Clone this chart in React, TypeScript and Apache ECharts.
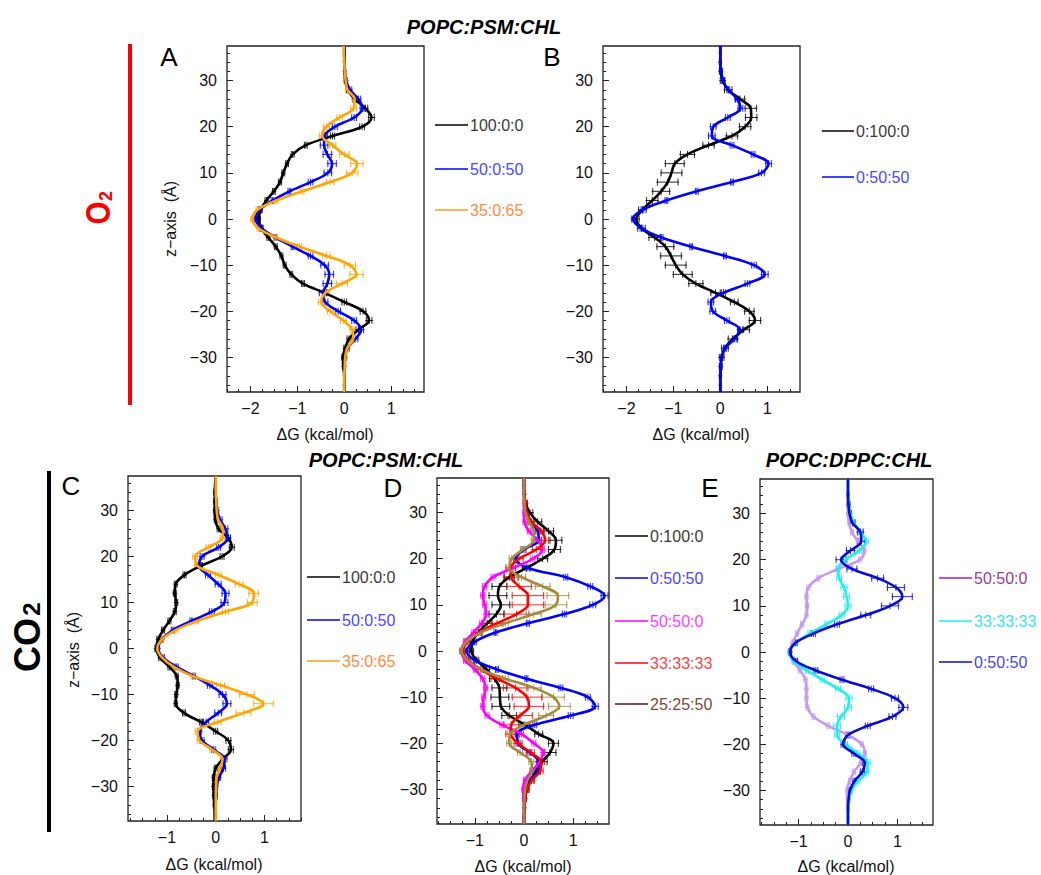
import React, { useEffect, useRef } from "react";
import * as echarts from "echarts";

// z positions (Å) at which profiles were read
const zGrid = [37.5, 36, 34, 32, 30, 28, 26, 24, 22, 20, 18, 16, 14, 12, 10, 8, 6, 4, 2, 0, -2, -4, -6, -8, -10, -12, -14, -16, -18, -20, -22, -24, -26, -28, -30, -32, -34, -36, -37.5];

const xTicksAB = [-2, -1, 0, 1];
const xTicksCDE = [-1, 0, 1];
const yTicks = [-30, -20, -10, 0, 10, 20, 30];

// ---- Panel A : O2, POPC:PSM:CHL ----
const aNames = ["100:0:0", "50:0:50", "35:0:65"];
const a100 = [0, 0, 0, 0.01, 0.02, 0.08, 0.22, 0.45, 0.58, 0.38, -0.25, -0.82, -1.1, -1.22, -1.3, -1.37, -1.5, -1.66, -1.78, -1.82, -1.77, -1.62, -1.46, -1.34, -1.27, -1.13, -0.88, -0.42, 0, 0.4, 0.53, 0.3, 0.1, 0.02, -0.03, -0.02, 0, 0, 0];
const a100Err = [0.01, 0.01, 0.01, 0.02, 0.02, 0.03, 0.04, 0.05, 0.06, 0.05, 0.04, 0.03, 0.03, 0.03, 0.03, 0.03, 0.03, 0.03, 0.03, 0.03, 0.03, 0.03, 0.03, 0.03, 0.03, 0.03, 0.03, 0.04, 0.05, 0.06, 0.06, 0.05, 0.04, 0.03, 0.02, 0.02, 0.01, 0.01, 0.01];
const a50 = [0, 0, 0, 0.01, 0.04, 0.12, 0.3, 0.39, 0.21, -0.2, -0.42, -0.43, -0.36, -0.26, -0.35, -0.72, -1.17, -1.53, -1.8, -1.89, -1.76, -1.47, -1.1, -0.72, -0.42, -0.32, -0.36, -0.45, -0.41, -0.13, 0.21, 0.36, 0.24, 0.07, 0.02, 0.01, 0, 0, 0];
const a50Err = [0.01, 0.01, 0.01, 0.02, 0.03, 0.04, 0.05, 0.05, 0.05, 0.05, 0.06, 0.08, 0.09, 0.09, 0.08, 0.05, 0.03, 0.03, 0.03, 0.03, 0.03, 0.03, 0.03, 0.05, 0.08, 0.09, 0.09, 0.08, 0.06, 0.05, 0.05, 0.05, 0.05, 0.04, 0.03, 0.02, 0.01, 0.01, 0.01];
const a35 = [-0.01, -0.01, 0, 0.01, 0.03, 0.07, 0.22, 0.2, -0.1, -0.38, -0.47, -0.25, 0, 0.27, 0.17, -0.3, -0.9, -1.45, -1.85, -1.96, -1.83, -1.45, -0.95, -0.38, 0.12, 0.26, -0.05, -0.4, -0.49, -0.3, -0.02, 0.17, 0.19, 0.06, 0.02, 0.01, 0, 0, 0];
const a35Err = [0.01, 0.01, 0.01, 0.02, 0.03, 0.04, 0.05, 0.06, 0.06, 0.06, 0.06, 0.07, 0.1, 0.13, 0.12, 0.08, 0.04, 0.03, 0.03, 0.03, 0.03, 0.03, 0.04, 0.08, 0.12, 0.14, 0.12, 0.07, 0.06, 0.06, 0.06, 0.05, 0.05, 0.04, 0.03, 0.02, 0.01, 0.01, 0.01];

// ---- Panel B : O2, POPC:PSM:CHL ----
const bNames = ["0:100:0", "0:50:50"];
const b100 = [0, 0, 0, 0.01, 0.05, 0.17, 0.42, 0.65, 0.66, 0.53, 0.25, -0.25, -0.7, -0.97, -1.04, -1.12, -1.26, -1.45, -1.66, -1.79, -1.68, -1.4, -1.17, -1.05, -0.95, -0.8, -0.52, -0.1, 0.3, 0.62, 0.74, 0.5, 0.27, 0.1, 0.03, 0.01, 0, 0, 0];
const b100Err = [0.01, 0.01, 0.02, 0.03, 0.05, 0.08, 0.1, 0.12, 0.12, 0.12, 0.12, 0.12, 0.15, 0.2, 0.22, 0.22, 0.18, 0.12, 0.08, 0.06, 0.08, 0.12, 0.18, 0.22, 0.22, 0.2, 0.15, 0.1, 0.08, 0.1, 0.12, 0.12, 0.1, 0.07, 0.05, 0.03, 0.02, 0.01, 0.01];
const b50 = [0, 0, 0, 0.02, 0.06, 0.17, 0.36, 0.43, 0.16, -0.15, -0.18, 0.25, 0.7, 1.03, 0.88, 0.25, -0.5, -1.15, -1.66, -1.86, -1.68, -1.25, -0.62, 0.1, 0.72, 0.95, 0.58, 0.07, -0.2, -0.16, 0.14, 0.42, 0.3, 0.1, 0.03, 0.01, 0, 0, 0];
const b50Err = [0.01, 0.01, 0.01, 0.02, 0.03, 0.03, 0.04, 0.05, 0.05, 0.06, 0.07, 0.04, 0.04, 0.06, 0.06, 0.03, 0.03, 0.03, 0.03, 0.03, 0.03, 0.03, 0.03, 0.03, 0.05, 0.07, 0.05, 0.04, 0.06, 0.06, 0.05, 0.05, 0.04, 0.03, 0.02, 0.02, 0.01, 0.01, 0.01];

// ---- Panel C : CO2, POPC:PSM:CHL ----
const cNames = ["100:0:0", "50:0:50", "35:0:65"];
const c100 = [0, -0.01, -0.02, -0.02, -0.02, -0.01, 0.06, 0.26, 0.33, 0.13, -0.3, -0.64, -0.82, -0.84, -0.81, -0.84, -0.95, -1.08, -1.18, -1.22, -1.14, -0.95, -0.8, -0.78, -0.81, -0.82, -0.65, -0.3, 0, 0.26, 0.31, 0.15, 0, -0.04, -0.05, -0.04, -0.03, -0.02, -0.02];
const c100Err = [0.01, 0.01, 0.02, 0.02, 0.02, 0.02, 0.03, 0.04, 0.05, 0.04, 0.03, 0.03, 0.03, 0.03, 0.03, 0.03, 0.03, 0.03, 0.03, 0.03, 0.03, 0.03, 0.03, 0.03, 0.03, 0.03, 0.03, 0.03, 0.04, 0.05, 0.05, 0.04, 0.03, 0.03, 0.02, 0.02, 0.02, 0.01, 0.01];
const c50 = [0, 0, 0, 0.01, 0.03, 0.09, 0.2, 0.25, 0.06, -0.28, -0.34, -0.16, 0.05, 0.2, 0.18, -0.08, -0.5, -0.88, -1.1, -1.18, -1.08, -0.8, -0.45, -0.12, 0.14, 0.23, 0.05, -0.2, -0.33, -0.28, -0.04, 0.18, 0.16, 0.07, 0.02, 0.01, 0, 0, 0];
const c50Err = [0.01, 0.01, 0.01, 0.02, 0.03, 0.04, 0.05, 0.05, 0.04, 0.04, 0.04, 0.05, 0.06, 0.07, 0.07, 0.05, 0.03, 0.03, 0.03, 0.03, 0.03, 0.03, 0.03, 0.05, 0.07, 0.08, 0.07, 0.05, 0.04, 0.04, 0.04, 0.05, 0.04, 0.03, 0.02, 0.02, 0.01, 0.01, 0.01];
const c35 = [0, 0, 0, 0.01, 0.02, 0.05, 0.15, 0.14, -0.15, -0.42, -0.38, 0.05, 0.48, 0.78, 0.75, 0.2, -0.38, -0.82, -1.1, -1.2, -1.1, -0.86, -0.47, 0.1, 0.64, 0.98, 0.57, 0.04, -0.37, -0.33, -0.07, 0.14, 0.09, 0.02, 0.01, 0, 0, 0, 0];
const c35Err = [0.01, 0.01, 0.01, 0.02, 0.03, 0.04, 0.04, 0.05, 0.05, 0.05, 0.05, 0.06, 0.08, 0.1, 0.1, 0.06, 0.03, 0.03, 0.03, 0.03, 0.03, 0.03, 0.04, 0.08, 0.15, 0.2, 0.15, 0.07, 0.05, 0.05, 0.05, 0.04, 0.04, 0.03, 0.02, 0.02, 0.01, 0.01, 0.01];

// ---- Panel D : CO2, POPC:PSM:CHL ----
const dNames = ["0:100:0", "0:50:50", "50:50:0", "33:33:33", "25:25:50"];
const d0100 = [0, 0, 0.01, 0.03, 0.12, 0.28, 0.5, 0.65, 0.62, 0.38, 0.05, -0.3, -0.5, -0.53, -0.47, -0.56, -0.75, -0.93, -1.05, -1.07, -0.96, -0.76, -0.6, -0.5, -0.49, -0.47, -0.3, 0.02, 0.3, 0.6, 0.53, 0.37, 0.25, 0.14, 0.06, 0.02, 0.01, 0, 0];
const d0100Err = [0.01, 0.01, 0.02, 0.04, 0.06, 0.08, 0.1, 0.12, 0.12, 0.1, 0.08, 0.1, 0.15, 0.18, 0.18, 0.15, 0.1, 0.06, 0.04, 0.04, 0.04, 0.06, 0.1, 0.15, 0.18, 0.18, 0.15, 0.1, 0.08, 0.1, 0.12, 0.1, 0.08, 0.06, 0.04, 0.03, 0.02, 0.01, 0.01];
const d050 = [0, 0, 0, 0.01, 0.04, 0.12, 0.28, 0.3, 0, -0.17, 0.08, 0.85, 1.35, 1.64, 1.4, 0.82, 0.08, -0.58, -1.0, -1.17, -1.0, -0.55, 0.05, 0.75, 1.3, 1.45, 0.95, 0.22, -0.14, -0.12, 0.12, 0.3, 0.28, 0.12, 0.04, 0.01, 0, 0, 0];
const d050Err = [0.01, 0.01, 0.01, 0.02, 0.03, 0.04, 0.05, 0.05, 0.04, 0.04, 0.04, 0.04, 0.05, 0.07, 0.06, 0.04, 0.03, 0.03, 0.03, 0.03, 0.03, 0.03, 0.03, 0.04, 0.05, 0.06, 0.05, 0.04, 0.04, 0.04, 0.04, 0.05, 0.04, 0.03, 0.02, 0.02, 0.01, 0.01, 0.01];
const d5050 = [0, 0, 0, 0, 0, 0.01, 0.1, 0.28, 0.38, 0.18, -0.22, -0.63, -0.8, -0.84, -0.8, -0.77, -0.86, -1.03, -1.2, -1.27, -1.2, -1.0, -0.84, -0.78, -0.82, -0.84, -0.75, -0.45, -0.05, 0.2, 0.39, 0.32, 0.16, 0.02, -0.02, -0.01, 0, 0, 0];
const d5050Err = [0.01, 0.01, 0.01, 0.02, 0.02, 0.03, 0.03, 0.04, 0.04, 0.04, 0.04, 0.04, 0.04, 0.04, 0.04, 0.04, 0.04, 0.03, 0.03, 0.03, 0.03, 0.03, 0.04, 0.04, 0.04, 0.04, 0.04, 0.04, 0.04, 0.04, 0.04, 0.04, 0.03, 0.03, 0.02, 0.02, 0.01, 0.01, 0.01];
const d33 = [0, 0, 0.01, 0.03, 0.06, 0.15, 0.35, 0.43, 0.25, -0.1, -0.27, -0.26, -0.1, 0.08, 0.08, -0.15, -0.55, -0.92, -1.15, -1.24, -1.13, -0.88, -0.55, -0.17, 0.06, 0.1, -0.08, -0.26, -0.27, -0.12, 0.13, 0.35, 0.33, 0.16, 0.06, 0.02, 0.01, 0, 0];
const d33Err = [0.01, 0.01, 0.02, 0.03, 0.04, 0.05, 0.06, 0.07, 0.08, 0.08, 0.1, 0.15, 0.25, 0.32, 0.32, 0.25, 0.12, 0.06, 0.04, 0.04, 0.04, 0.06, 0.12, 0.25, 0.3, 0.3, 0.25, 0.15, 0.1, 0.08, 0.08, 0.07, 0.06, 0.05, 0.04, 0.03, 0.02, 0.01, 0.01];
const d25 = [0, 0, 0, 0.01, 0.03, 0.1, 0.2, 0.2, -0.02, -0.25, -0.3, -0.05, 0.38, 0.69, 0.65, 0.2, -0.38, -0.88, -1.17, -1.27, -1.15, -0.88, -0.38, 0.2, 0.6, 0.72, 0.45, 0, -0.28, -0.3, -0.08, 0.15, 0.16, 0.07, 0.02, 0.01, 0, 0, 0];
const d25Err = [0.01, 0.01, 0.01, 0.02, 0.03, 0.04, 0.05, 0.05, 0.05, 0.05, 0.06, 0.08, 0.15, 0.22, 0.22, 0.15, 0.06, 0.04, 0.04, 0.04, 0.04, 0.04, 0.06, 0.15, 0.22, 0.22, 0.15, 0.08, 0.06, 0.05, 0.05, 0.05, 0.04, 0.03, 0.03, 0.02, 0.01, 0.01, 0.01];

// ---- Panel E : CO2, POPC:DPPC:CHL ----
const eNames = ["50:50:0", "33:33:33", "0:50:50"];
const e5050 = [0, 0, 0, 0, 0, 0.02, 0.08, 0.2, 0.33, 0.24, -0.2, -0.6, -0.8, -0.84, -0.83, -0.84, -0.93, -1.03, -1.12, -1.18, -1.1, -0.97, -0.86, -0.84, -0.84, -0.82, -0.7, -0.4, 0, 0.28, 0.34, 0.26, 0.12, 0.03, -0.02, -0.02, -0.01, 0, 0];
const e5050Err = [0.01, 0.01, 0.01, 0.01, 0.02, 0.02, 0.03, 0.03, 0.03, 0.03, 0.03, 0.03, 0.03, 0.03, 0.03, 0.03, 0.03, 0.03, 0.03, 0.03, 0.03, 0.03, 0.03, 0.03, 0.03, 0.03, 0.03, 0.03, 0.03, 0.03, 0.03, 0.03, 0.03, 0.02, 0.02, 0.01, 0.01, 0.01, 0.01];
const e33 = [0, 0, 0, 0.02, 0.05, 0.12, 0.25, 0.37, 0.23, -0.05, -0.2, -0.18, -0.08, -0.03, 0, -0.13, -0.44, -0.78, -1.05, -1.18, -1.1, -0.83, -0.52, -0.2, 0.02, 0, -0.14, -0.22, -0.22, -0.05, 0.2, 0.4, 0.38, 0.2, 0.07, 0.02, 0.01, 0, 0];
const e33Err = [0.01, 0.01, 0.01, 0.02, 0.02, 0.03, 0.04, 0.04, 0.04, 0.04, 0.04, 0.05, 0.06, 0.06, 0.06, 0.05, 0.03, 0.03, 0.03, 0.03, 0.03, 0.03, 0.04, 0.05, 0.06, 0.07, 0.07, 0.07, 0.05, 0.04, 0.04, 0.05, 0.04, 0.03, 0.02, 0.02, 0.01, 0.01, 0.01];
const e050 = [0, 0, 0, 0.01, 0.03, 0.09, 0.25, 0.27, 0.05, -0.14, 0.08, 0.6, 0.97, 1.1, 0.85, 0.36, -0.22, -0.7, -1.06, -1.17, -1.05, -0.65, -0.12, 0.47, 0.95, 1.12, 0.9, 0.4, 0, -0.1, 0.12, 0.34, 0.29, 0.13, 0.04, 0.01, 0, 0, 0];
const e050Err = [0.01, 0.01, 0.02, 0.03, 0.04, 0.05, 0.06, 0.07, 0.08, 0.1, 0.1, 0.12, 0.17, 0.2, 0.17, 0.1, 0.05, 0.04, 0.03, 0.03, 0.03, 0.04, 0.04, 0.05, 0.07, 0.09, 0.07, 0.05, 0.04, 0.04, 0.04, 0.05, 0.04, 0.03, 0.02, 0.02, 0.01, 0.01, 0.01];

const FONT = "'Liberation Sans', Arial, Helvetica, sans-serif";

type Curve = { name: string; vals: number[]; err: number[]; color: string; legLine: string; legText: string };
type Panel = {
  grid: { left: number; top: number; width: number; height: number };
  xMin: number; xMax: number; xTicks: number[];
  curves: Curve[];
  legX1: number; legX2: number; legY: number[];
};

const BLK = { color: "#000000", legLine: "#000000", legText: "#3a3a3a" };
const BLU = { color: "#0000ff", legLine: "#0000ff", legText: "#4848ff" };
const ORA = { color: "#ffa500", legLine: "#ff9d1a", legText: "#ff8a40" };

const panels: Panel[] = [
  {
    grid: { left: 227, top: 46, width: 197, height: 346 }, xMin: -2.5, xMax: 1.7, xTicks: xTicksAB,
    curves: [
      { name: aNames[0], vals: a100, err: a100Err, ...BLK },
      { name: aNames[1], vals: a50, err: a50Err, ...BLU },
      { name: aNames[2], vals: a35, err: a35Err, ...ORA },
    ],
    legX1: 435, legX2: 468, legY: [125, 169, 210],
  },
  {
    grid: { left: 603, top: 46, width: 197, height: 346 }, xMin: -2.5, xMax: 1.7, xTicks: xTicksAB,
    curves: [
      { name: bNames[0], vals: b100, err: b100Err, ...BLK },
      { name: bNames[1], vals: b50, err: b50Err, ...BLU },
    ],
    legX1: 822, legX2: 854, legY: [131, 177],
  },
  {
    grid: { left: 128, top: 476, width: 173, height: 345 }, xMin: -1.8, xMax: 1.75, xTicks: xTicksCDE,
    curves: [
      { name: cNames[0], vals: c100, err: c100Err, ...BLK },
      { name: cNames[1], vals: c50, err: c50Err, ...BLU },
      { name: cNames[2], vals: c35, err: c35Err, ...ORA },
    ],
    legX1: 307, legX2: 340, legY: [577, 620, 661],
  },
  {
    grid: { left: 437, top: 478, width: 172, height: 346 }, xMin: -1.77, xMax: 1.73, xTicks: xTicksCDE,
    curves: [
      { name: dNames[0], vals: d0100, err: d0100Err, ...BLK },
      { name: dNames[1], vals: d050, err: d050Err, ...BLU },
      { name: dNames[2], vals: d5050, err: d5050Err, color: "#ff00ff", legLine: "#ff00ff", legText: "#ff3cff" },
      { name: dNames[3], vals: d33, err: d33Err, color: "#ff0000", legLine: "#ff0000", legText: "#ff4646" },
      { name: dNames[4], vals: d25, err: d25Err, color: "#a58a3c", legLine: "#5a0f0f", legText: "#7a4a32" },
    ],
    legX1: 615, legX2: 648, legY: [536, 578, 621, 663, 704],
  },
  {
    grid: { left: 760, top: 479, width: 173, height: 346 }, xMin: -1.78, xMax: 1.72, xTicks: xTicksCDE,
    curves: [
      { name: eNames[0], vals: e5050, err: e5050Err, color: "#c49af0", legLine: "#9b1fd6", legText: "#9a3a9a" },
      { name: eNames[1], vals: e33, err: e33Err, color: "#1ef0f0", legLine: "#1ef0f0", legText: "#3ae6e6" },
      { name: eNames[2], vals: e050, err: e050Err, color: "#0a0ad8", legLine: "#0a0ad8", legText: "#4848ee" },
    ],
    legX1: 939, legX2: 972, legY: [578, 621, 662],
  },
];

function range(a: number, b: number, step: number) {
  const out: number[] = [];
  for (let v = a; v <= b + 1e-9; v += step) out.push(Math.round(v * 100) / 100);
  return out;
}

const fmt = (v: number) => String(v).replace("-", "\u2212");

function buildOption() {
  const grids: any[] = [];
  const xAxes: any[] = [];
  const yAxes: any[] = [];
  const series: any[] = [];
  const yMinor = range(-36, 36, 2);

  panels.forEach((p, i) => {
    grids.push({ ...p.grid, show: true, borderColor: "#222", borderWidth: 1.3, backgroundColor: "transparent" });
    const xMinor = range(Math.ceil(p.xMin * 4) / 4, p.xMax, 0.25);
    const common = { type: "value", gridIndex: i, splitLine: { show: false }, axisLine: { show: false, onZero: false } };
    xAxes.push({
      ...common, min: p.xMin, max: p.xMax, position: "bottom",
      axisTick: { show: true, inside: true, length: 6, lineStyle: { color: "#222", width: 1 }, customValues: p.xTicks },
      axisLabel: { show: true, customValues: p.xTicks, formatter: fmt, fontSize: 16, color: "#111", margin: 8, fontFamily: FONT },
    });
    xAxes.push({
      ...common, min: p.xMin, max: p.xMax, position: "bottom", offset: 0,
      axisTick: { show: true, inside: true, length: 3, lineStyle: { color: "#222", width: 1 }, customValues: xMinor },
      axisLabel: { show: false },
    });
    yAxes.push({
      ...common, min: -37.5, max: 37.5, position: "left",
      axisTick: { show: true, inside: true, length: 6, lineStyle: { color: "#222", width: 1 }, customValues: yTicks },
      axisLabel: { show: true, customValues: yTicks, formatter: fmt, fontSize: 16, color: "#111", margin: 10, fontFamily: FONT },
    });
    yAxes.push({
      ...common, min: -37.5, max: 37.5, position: "left", offset: 0,
      axisTick: { show: true, inside: true, length: 3, lineStyle: { color: "#222", width: 1 }, customValues: yMinor },
      axisLabel: { show: false },
    });

    p.curves.forEach((c) => {
      const col = c.color;
      series.push({
        type: "custom",
        name: c.name + " err",
        xAxisIndex: 2 * i,
        yAxisIndex: 2 * i,
        silent: true,
        clip: true,
        encode: { x: 0, y: 1 },
        data: zGrid.map((z, k) => [c.vals[k], z, c.err[k]]),
        renderItem: (params: any, api: any) => {
          const x = api.value(0);
          const y = api.value(1);
          const e = api.value(2);
          const p1 = api.coord([x - e, y]);
          const p2 = api.coord([x + e, y]);
          const pc = api.coord([x, y]);
          const h = 3.5;
          const st = { stroke: col, lineWidth: 1, opacity: 0.85 };
          return {
            type: "group",
            children: [
              { type: "line", shape: { x1: p1[0] - 1, y1: p1[1], x2: p2[0] + 1, y2: p2[1] }, style: st },
              { type: "line", shape: { x1: p1[0], y1: p1[1] - h, x2: p1[0], y2: p1[1] + h }, style: st },
              { type: "line", shape: { x1: p2[0], y1: p2[1] - h, x2: p2[0], y2: p2[1] + h }, style: st },
              { type: "line", shape: { x1: pc[0], y1: pc[1] - h, x2: pc[0], y2: pc[1] + h }, style: st },
            ],
          };
        },
      });
      series.push({
        type: "line",
        name: c.name,
        xAxisIndex: 2 * i,
        yAxisIndex: 2 * i,
        silent: true,
        clip: true,
        smooth: 0.35,
        showSymbol: false,
        symbol: "none",
        lineStyle: { color: col, width: 2.6 },
        itemStyle: { color: col },
        data: zGrid.map((z, k) => [c.vals[k], z]),
      });
    });
  });

  const g: any[] = [];
  const txt = (text: string, x: number, y: number, extra: any = {}, el: any = {}) => ({
    type: "text", x, y, silent: true, ...el,
    style: { text, fontSize: 16, fontFamily: FONT, fill: "#111", align: "center", verticalAlign: "middle", ...extra },
  });

  // titles
  g.push(txt("POPC:PSM:CHL", 484, 27, { fontSize: 20, fontWeight: "bold", fontStyle: "italic", fill: "#000" }));
  g.push(txt("POPC:PSM:CHL", 386, 460, { fontSize: 20, fontWeight: "bold", fontStyle: "italic", fill: "#000" }));
  g.push(txt("POPC:DPPC:CHL", 849, 460, { fontSize: 20, fontWeight: "bold", fontStyle: "italic", fill: "#000" }));

  // panel letters
  const letters: [string, number, number][] = [["A", 169, 57], ["B", 552, 57], ["C", 71, 486], ["D", 393, 488], ["E", 710, 488]];
  letters.forEach(([t, x, y]) => g.push(txt(t, x, y, { fontSize: 26, fill: "#000" })));

  // axis titles
  g.push(txt("z\u2212axis  (\u00c5)", 170, 219, { fontSize: 16 }, { rotation: Math.PI / 2 }));
  g.push(txt("z\u2212axis  (\u00c5)", 73, 650, { fontSize: 16 }, { rotation: Math.PI / 2 }));
  const dg = "\u0394G (kcal/mol)";
  g.push(txt(dg, 325, 434));
  g.push(txt(dg, 701, 434));
  g.push(txt(dg, 214, 864));
  g.push(txt(dg, 523, 866));
  g.push(txt(dg, 846, 866));

  // group bars and gas labels
  g.push({ type: "rect", silent: true, shape: { x: 128, y: 44, width: 4, height: 361 }, style: { fill: "#ff0000" } });
  g.push({ type: "rect", silent: true, shape: { x: 47, y: 471, width: 4, height: 361 }, style: { fill: "#000000" } });
  g.push(txt("O", 97, 213, { fontSize: 36, fontWeight: "bold", fill: "#ff0000" }, { rotation: Math.PI / 2, scaleX: 0.82 }));
  g.push(txt("2", 106, 196, { fontSize: 18, fontWeight: "bold", fill: "#ff0000" }, { rotation: Math.PI / 2 }));
  g.push(txt("CO", 27, 645, { fontSize: 36, fontWeight: "bold", fill: "#000" }, { rotation: Math.PI / 2 }));
  g.push(txt("2", 31, 609, { fontSize: 24, fontWeight: "bold", fill: "#000" }, { rotation: Math.PI / 2 }));

  // legends
  panels.forEach((p) => {
    p.curves.forEach((c, k) => {
      const y = p.legY[k];
      g.push({ type: "line", silent: true, shape: { x1: p.legX1, y1: y, x2: p.legX2, y2: y }, style: { stroke: c.legLine, lineWidth: 1.5 } });
      g.push(txt(c.name, p.legX2 + 2, y, { align: "left", fill: c.legText, fontSize: 16 }));
    });
  });

  return {
    animation: false,
    backgroundColor: "#ffffff",
    grid: grids,
    xAxis: xAxes,
    yAxis: yAxes,
    series,
    graphic: { elements: g },
  };
}

export default function App() {
  const ref = useRef<HTMLDivElement>(null);
  useEffect(() => {
    if (!ref.current) return;
    const chart = echarts.init(ref.current, undefined, { renderer: "svg" });
    chart.setOption(buildOption() as any);
    return () => chart.dispose();
  }, []);
  return (
    <div
      ref={ref}
      style={{ position: "fixed", left: 0, top: 0, width: 1041, height: 875, background: "#fff" }}
    />
  );
}
